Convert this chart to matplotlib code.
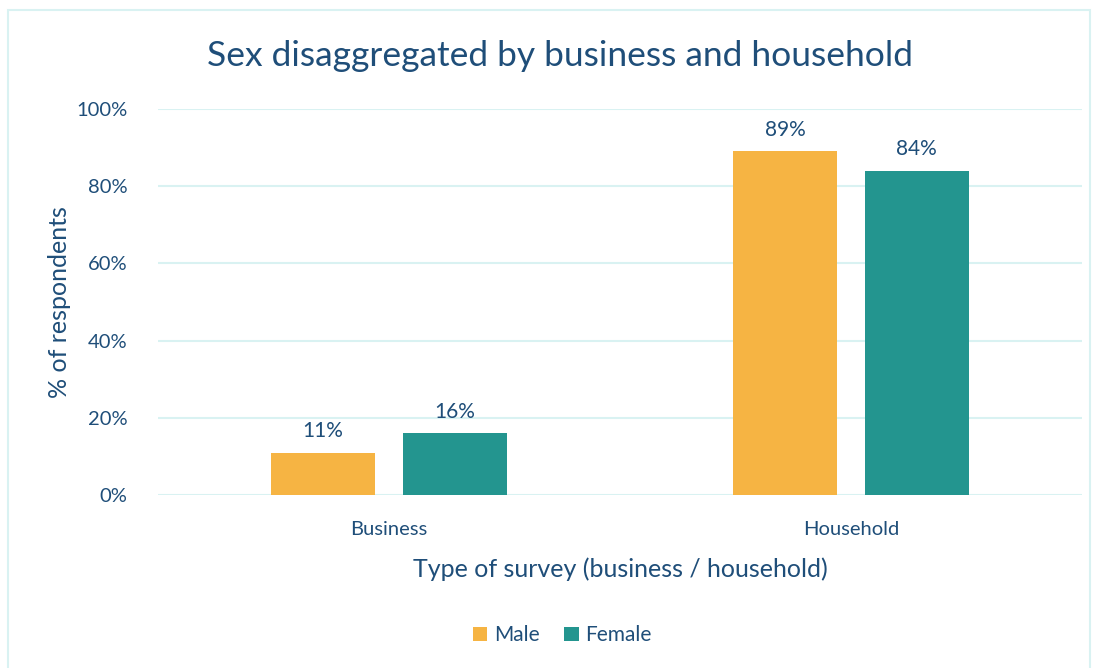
import numpy as np
import matplotlib.pyplot as plt
from matplotlib.patches import Rectangle

# Datos del grafico
categorias = ['Business', 'Household']
hombres = [11, 89]
mujeres = [16, 84]
etiquetas_y = ['0%', '20%', '40%', '60%', '80%', '100%']

AZUL = '#1F4E79'
NARANJA = '#F6B443'
VERDE = '#23958F'
REJILLA = '#D9F2F2'

plt.rcParams['font.family'] = ['Lato', 'DejaVu Sans']

fig = plt.figure(figsize=(10.98, 6.68), dpi=100)
ax = fig.add_axes([0.1439, 0.259, 0.8415, 0.5778])

x = np.arange(len(categorias))
ancho = 0.225
desp = 0.1425

b1 = ax.bar(x - desp, hombres, ancho, color=NARANJA, label='Male', zorder=3)
b2 = ax.bar(x + desp, mujeres, ancho, color=VERDE, label='Female', zorder=3)

# Etiquetas de valor encima de las barras
for barras, valores in ((b1, hombres), (b2, mujeres)):
	for b, v in zip(barras, valores):
		ax.text(b.get_x() + b.get_width() / 2, v + 3, f'{v}%',
			ha='center', va='bottom', color=AZUL, fontsize=15)

ax.set_xlim(-0.5, 1.5)
ax.set_ylim(0, 100)
ax.set_yticks(np.arange(0, 101, 20))
ax.set_yticklabels(etiquetas_y)
ax.set_xticks(x)
ax.set_xticklabels(categorias)
ax.tick_params(axis='both', length=0, colors=AZUL, labelsize=14.5)
ax.tick_params(axis='y', pad=22)
ax.tick_params(axis='x', pad=19)
ax.grid(axis='y', color=REJILLA, linewidth=1.5, zorder=0)
for s in ax.spines.values():
	s.set_visible(False)

ax.set_xlabel('Type of survey (business / household)', color=AZUL, fontsize=18, labelpad=14)
ax.set_ylabel('% of respondents', color=AZUL, fontsize=18, labelpad=4)

fig.suptitle('Sex disaggregated by business and household', color=AZUL,
	fontsize=25.5, x=0.510, y=0.94)

fig.legend(handles=[b1, b2], loc='center', bbox_to_anchor=(0.512, 0.049), ncol=2,
	frameon=False, fontsize=15, labelcolor=AZUL, handlelength=0.7,
	handleheight=0.7, handletextpad=0.3, columnspacing=1.2)

# Marco exterior
fig.patches.append(Rectangle((8 / 1098, -0.1), 1082 / 1098, 1 - 10 / 668 + 0.1,
	transform=fig.transFigure, fill=False, edgecolor=REJILLA, linewidth=1.5))

fig.savefig('out.png', dpi=100)
